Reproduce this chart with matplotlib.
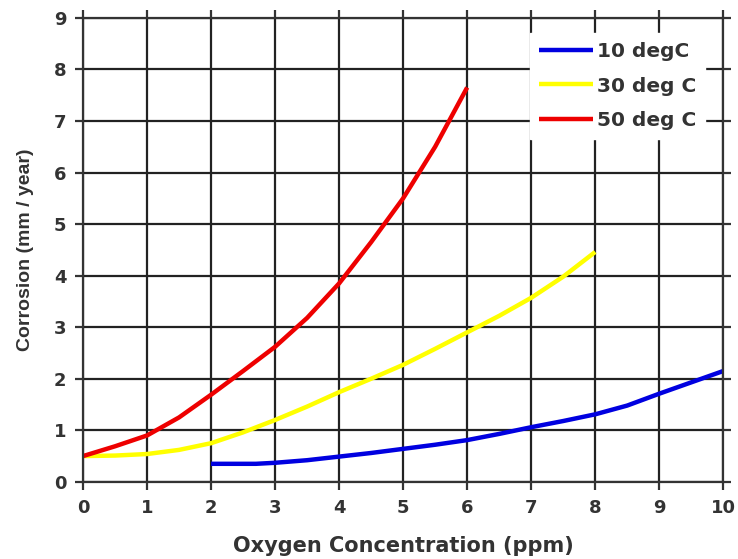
import matplotlib
matplotlib.use("Agg")
import matplotlib.pyplot as plt

plt.rcParams["font.family"] = ["DejaVu Sans"]

# data
x_10 = [2, 2.7, 3, 3.5, 4, 4.5, 5, 5.5, 6, 6.5, 7, 7.5, 8, 8.5, 9, 9.5, 10]
y_10 = [0.35, 0.35, 0.37, 0.42, 0.49, 0.56, 0.64, 0.72, 0.81, 0.93, 1.06, 1.18, 1.31, 1.48, 1.71, 1.93, 2.15]

x_30 = [0, 0.5, 1, 1.5, 2, 2.5, 3, 3.5, 4, 4.5, 5, 5.5, 6, 6.5, 7, 7.5, 8]
y_30 = [0.5, 0.51, 0.54, 0.62, 0.75, 0.96, 1.2, 1.46, 1.74, 2.0, 2.27, 2.58, 2.9, 3.22, 3.57, 3.98, 4.46]

x_50 = [0, 0.5, 1, 1.5, 2, 2.5, 3, 3.5, 4, 4.5, 5, 5.5, 6]
y_50 = [0.5, 0.69, 0.9, 1.25, 1.69, 2.15, 2.62, 3.18, 3.85, 4.65, 5.5, 6.5, 7.65]

labels = ["10 degC", "30 deg C", "50 deg C"]
colors = ["#0000e0", "#ffff00", "#ee0000"]

fig = plt.figure(figsize=(7.38, 5.59), dpi=100)
ax = fig.add_axes([0.1125, 0.138, 0.8675, 0.830])

for xs, ys, lab, c in zip([x_10, x_30, x_50], [y_10, y_30, y_50], labels, colors):
    ax.plot(xs, ys, color=c, lw=3.2, label=lab, solid_capstyle="butt")

ax.set_xlim(0, 10)
ax.set_ylim(0, 9)
ax.set_xticks(range(0, 11))
ax.set_yticks(range(0, 10))
ax.grid(True, color="#222222", lw=1.6)
ax.set_axisbelow(True)
for s in ax.spines.values():
    s.set_color("#333333")
    s.set_linewidth(1.6)
ax.tick_params(direction="out", length=6, width=1.6, color="#333333",
               top=True, right=True, labelsize=13, labelcolor="#333333", pad=6)
for t in ax.get_xticklabels() + ax.get_yticklabels():
    t.set_fontweight("bold")

ax.set_xlabel("Oxygen Concentration (ppm)", fontsize=15, fontweight="bold",
              color="#333333", labelpad=14)
ax.set_ylabel("Corrosion (mm / year)", fontsize=14, fontweight="bold",
              color="#333333", labelpad=14, family=["Liberation Sans", "DejaVu Sans"])

leg = ax.legend(loc="upper right", bbox_to_anchor=(0.972, 0.968), frameon=True,
                fancybox=False, edgecolor="white", framealpha=1,
                prop={"weight": "bold", "size": 14.5}, handlelength=2.7,
                labelspacing=0.78, borderaxespad=0, borderpad=0.45,
                handletextpad=0.2)
for t in leg.get_texts():
    t.set_color("#333333")

fig.savefig("out.png", dpi=100)
